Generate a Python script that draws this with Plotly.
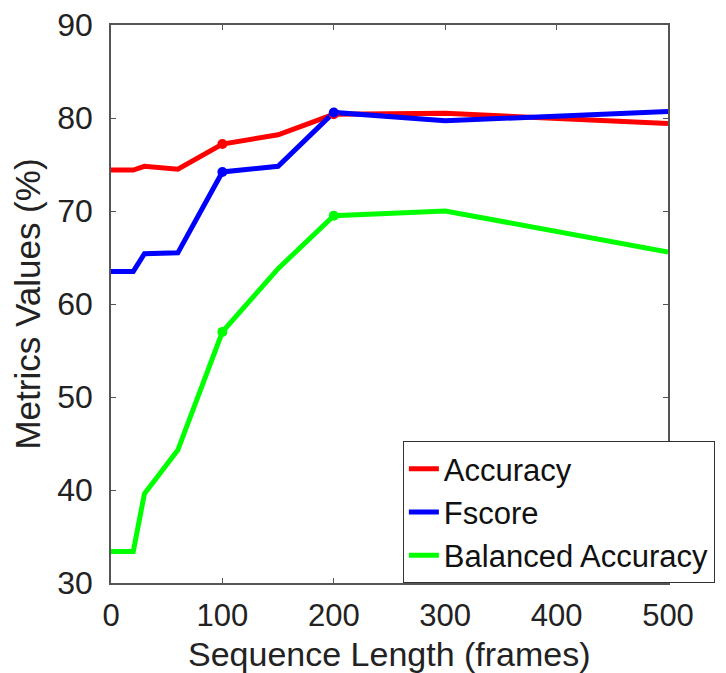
import plotly.graph_objects as go

seq_len = [0, 20, 30, 60, 100, 150, 200, 300, 500]
accuracy = [74.4, 74.4, 74.8, 74.5, 77.2, 78.2, 80.4, 80.5, 79.4]
fscore = [63.5, 63.5, 65.4, 65.5, 74.2, 74.8, 80.6, 79.7, 80.7]
balanced = [33.4, 33.4, 39.6, 44.3, 57.0, 63.8, 69.5, 70.0, 65.6]
marker_x = [100, 200]
x_title = "Sequence Length (frames)"
y_title = "Metrics Values (%)"

series = [
    ("Accuracy", accuracy, "#ff0000"),
    ("Fscore", fscore, "#0000ff"),
    ("Balanced Accuracy", balanced, "#00ff00"),
]

fig = go.Figure()
for name, vals, col in series:
    fig.add_trace(go.Scatter(x=seq_len, y=vals, mode="lines", name=name,
                             line=dict(color=col, width=5)))
for name, vals, col in series:
    my = [vals[seq_len.index(v)] for v in marker_x]
    fig.add_trace(go.Scatter(x=marker_x, y=my, mode="markers", showlegend=False,
                             marker=dict(color=col, size=10)))

axis_common = dict(showline=True, linecolor="#555555", linewidth=1.5, mirror="ticks",
                   ticks="inside", ticklen=5, tickcolor="#555555", showgrid=False,
                   zeroline=False, automargin=False)

fig.update_layout(
    width=726, height=673,
    margin=dict(l=111, r=58, t=25, b=90, autoexpand=False),
    paper_bgcolor="white", plot_bgcolor="white",
    font=dict(family="Liberation Sans, Arial, sans-serif", color="#222222"),
    xaxis=dict(range=[0, 500], tickvals=[0, 100, 200, 300, 400, 500],
               ticklabelstandoff=4, tickfont=dict(size=31, color="#222222"),
               **axis_common),
    yaxis=dict(range=[30, 90], tickvals=[30, 40, 50, 60, 70, 80, 90],
               title=dict(text=y_title, font=dict(size=35), standoff=6),
               ticklabelstandoff=10, tickfont=dict(size=32, color="#222222"),
               **axis_common),
    legend=dict(x=0.524, y=0, xanchor="left", yanchor="bottom",
                bgcolor="white", bordercolor="#333333", borderwidth=1,
                font=dict(size=31, color="#111111"), itemwidth=30,
                tracegroupgap=0),
    showlegend=True,
    annotations=[dict(text=x_title, xref="paper", yref="paper", x=0.5, y=-0.128,
                      xanchor="center", yanchor="middle", showarrow=False,
                      font=dict(size=34, color="#222222"))],
)

fig.write_html("out.html", config={"displayModeBar": False},
               post_script="document.body.style.margin='0';document.body.style.overflow='hidden';")
